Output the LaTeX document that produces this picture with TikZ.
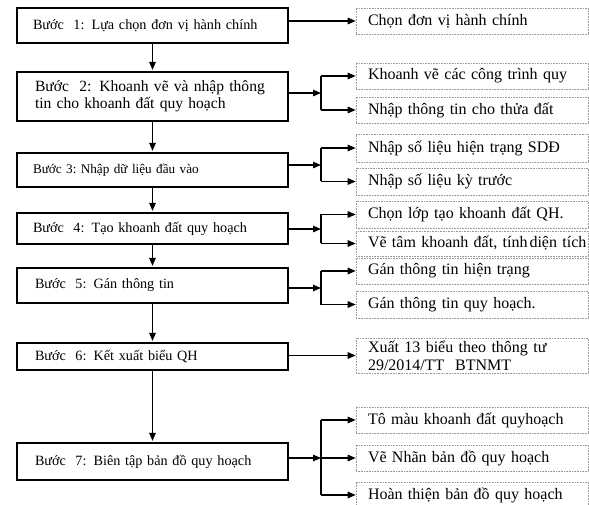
\documentclass[tikz,border=0pt]{standalone}
\usepackage{fontspec}
\setmainfont{Liberation Serif}
\usetikzlibrary{arrows.meta}
\begin{document}
\begin{tikzpicture}[x=1pt,y=-1pt,
  stepbox/.style={draw, line width=2.2pt, minimum height=#1, text width=239pt,
    inner xsep=16pt, inner ysep=0pt, align=left,
    font=\fontsize{14.2}{17}\selectfont},
  subbox/.style={draw=black!40, densely dotted, line width=0.6pt, minimum height=#1,
    text width=208pt, inner xsep=12pt, inner ysep=0pt, align=left,
    font=\fontsize{16}{18}\selectfont},
  arr/.style={line width=1.2pt, -{Triangle[length=8pt,width=6.5pt]}},
  ln/.style={line width=1.2pt}]
\useasboundingbox (0,0) rectangle (589,505);
% main steps
\node[stepbox=35pt] (b1) at (152.5,25.5) {Bước\ \ 1: Lựa chọn đơn vị hành chính};
\node[stepbox=49pt, font=\fontsize{15.6}{17}\selectfont, text width=235pt, inner xsep=18pt] (b2) at (152.5,96.5) {Bước\ \ 2: Khoanh vẽ và nhập thông\\tin cho khoanh đất quy hoạch};
\node[stepbox=34pt, font=\fontsize{13.2}{17}\selectfont] (b3) at (152.5,170) {Bước 3:\ Nhập dữ liệu đầu vào};
\node[stepbox=31pt] (b4) at (152.5,228.5) {Bước\ \ 4: Tạo khoanh đất quy hoạch};
\node[stepbox=35pt, inner xsep=18pt, text width=235pt] (b5) at (152.5,285.5) {Bước\ \ 5: Gán thông tin};
\node[stepbox=27pt, inner xsep=18pt, text width=235pt] (b6) at (152.5,356.5) {Bước\ \ 6: Kết xuất biểu QH};
\node[stepbox=37pt, inner xsep=18pt, text width=235pt] (b7) at (152.5,461.5) {Bước\ \ 7: Biên tập bản đồ quy hoạch};
% sub boxes
\node[subbox=26pt] (d1) at (472,21) {Chọn đơn vị hành chính};
\node[subbox=26pt] (d2a) at (472,76) {Khoanh vẽ các công trình quy};
\node[subbox=26pt] (d2b) at (472,110) {Nhập thông tin cho thửa đất};
\node[subbox=28pt] (d3a) at (472,148) {Nhập số liệu hiện trạng SDĐ};
\node[subbox=27pt] (d3b) at (472,181.5) {Nhập số liệu kỳ trước};
\node[subbox=27pt] (d4a) at (472,214.5) {Chọn lớp tạo khoanh đất QH.};
\node[subbox=25pt] (d4b) at (472,243.5) {\mbox{Vẽ tâm khoanh đất, tính\hspace{2pt}diện tích}};
\node[subbox=26pt] (d5a) at (472,271) {Gán thông tin hiện trạng};
\node[subbox=27pt] (d5b) at (472,304.5) {Gán thông tin quy hoạch.};
\node[subbox=35pt] (d6) at (472,355.5) {Xuất 13 biểu theo thông tư\\29/2014/TT\ \ BTNMT};
\node[subbox=26pt] (d7a) at (472,420) {Tô màu khoanh đất quyhoạch};
\node[subbox=26pt] (d7b) at (472,458) {Vẽ Nhãn bản đồ quy hoạch};
\node[subbox=26pt] (d7c) at (472,495) {Hoàn thiện bản đồ quy hoạch};
% vertical flow
\foreach \a/\b in {b1/b2,b2/b3,b3/b4,b4/b5,b5/b6,b6/b7}
  \draw[arr, shorten >=1pt] (\a.south) -- (\b.north);
% junctions
\coordinate (j2) at (321,93);
\coordinate (j3) at (321,165);
\coordinate (j4) at (321,229);
\coordinate (j5) at (321,288);
\coordinate (j7) at (321,458);
% single branches
\draw[arr] (b1.east |- d1.west) -- (d1.west);
\draw[arr] (b6.east |- d6.west) -- (d6.west);
% double branches
\foreach \j/\b/\u/\v in {j2/b2/d2a/d2b, j3/b3/d3a/d3b, j4/b4/d4a/d4b, j5/b5/d5a/d5b}{
  \draw[arr] (\b.east |- \j) -- (\j);
  \draw[ln] (\j |- \u.west) -- (\j |- \v.west);
  \draw[arr] (\j |- \u.west) -- (\u.west);
  \draw[arr] (\j |- \v.west) -- (\v.west);
}
% triple branch
\draw[arr] (b7.east |- j7) -- (j7);
\draw[ln] (j7 |- d7a.west) -- (j7 |- d7c.west);
\draw[arr] (j7 |- d7a.west) -- (d7a.west);
\draw[arr] (j7) -- (d7b.west);
\draw[arr] (j7 |- d7c.west) -- (d7c.west);
\end{tikzpicture}
\end{document}
